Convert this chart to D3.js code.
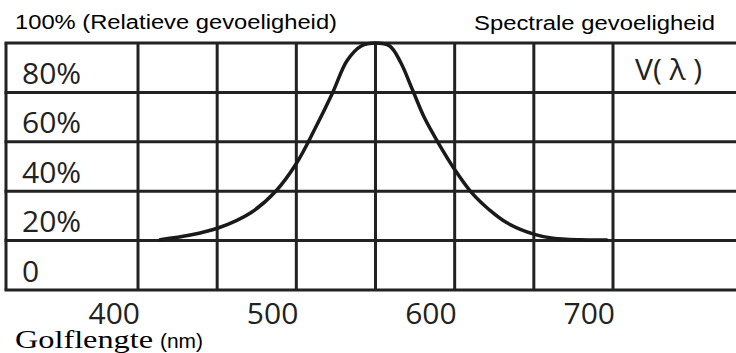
<!DOCTYPE html>
<html>
<head>
<meta charset="utf-8">
<script src="https://cdn.jsdelivr.net/npm/d3@7"></script>
<style>
  html, body { margin: 0; padding: 0; background: #fff; }
  svg { display: block; }
</style>
</head>
<body>
<svg id="chart"></svg>
<script>
// V(lambda) curve
const wavelengths = [414, 433, 451, 471, 487, 500, 512, 523, 532, 541, 550, 559, 566, 573, 581, 590, 600, 611, 622, 633, 651, 662, 679, 696];
const sensitivity = [0.5, 2.8, 6.5, 14, 25, 39, 57, 75, 91, 98.5, 100, 98.5, 90, 77, 62, 49, 36, 24, 15.5, 9, 3, 1.2, 0.4, 0.3];

// grid + labels
const gridWaves = [400, 450, 500, 550, 600, 650, 700];
const xTicks = [400, 500, 600, 700];
const xTickLabels = ['400', '500', '600', '700'];
const rowLabels = ['0', '20%', '40%', '60%', '80%'];

const width = 736;
const height = 353;
const frameLeft = 6;
const ink = '#222';

const svg = d3.select('#chart')
  .attr('width', width)
  .attr('height', height);

const x = d3.scaleLinear().domain([400, 700]).range([138, 613]);
// 5 grid rows, index 0 at the bottom frame line
const yRow = d3.scaleLinear().domain([0, 5]).range([290, 43]);
// curve values: 0 sits on the first row line, 100% on the top frame
const y = d3.scaleLinear().domain([0, 100]).range([yRow(1), yRow(5)]);

// horizontal lines
svg.append('g')
  .selectAll('line')
  .data(d3.range(0, 6))
  .enter().append('line')
  .attr('x1', frameLeft - 1.5)
  .attr('x2', width)
  .attr('y1', (d) => yRow(d))
  .attr('y2', (d) => yRow(d))
  .attr('stroke', ink)
  .attr('stroke-width', 3);

// left frame
svg.append('line')
  .attr('x1', frameLeft).attr('x2', frameLeft)
  .attr('y1', yRow(5)).attr('y2', yRow(0))
  .attr('stroke', ink)
  .attr('stroke-width', 3);

// wavelength grid
svg.append('g')
  .selectAll('line')
  .data(gridWaves)
  .enter().append('line')
  .attr('x1', (d) => x(d))
  .attr('x2', (d) => x(d))
  .attr('y1', yRow(5))
  .attr('y2', yRow(0))
  .attr('stroke', ink)
  .attr('stroke-width', 3);

// row labels
svg.append('g')
  .selectAll('text')
  .data(rowLabels)
  .enter().append('text')
  .attr('x', 22)
  .attr('y', (d, i) => yRow(i) - 8.5)
  .attr('font-family', 'Open Sans, sans-serif')
  .attr('font-size', 30)
  .attr('fill', ink)
  .text((d) => d);

// x tick labels
svg.append('g')
  .selectAll('text')
  .data(xTicks)
  .enter().append('text')
  .attr('x', (d) => x(d) + 2)
  .attr('y', 324)
  .attr('text-anchor', 'end')
  .attr('font-family', 'Open Sans, sans-serif')
  .attr('font-size', 30)
  .attr('fill', ink)
  .text((d, i) => xTickLabels[i]);

// curve
const line = d3.line()
  .x((d) => x(d[0]))
  .y((d) => y(d[1]))
  .curve(d3.curveCatmullRom.alpha(0.5));

svg.append('path')
  .datum(wavelengths.map((w, i) => [w, sensitivity[i]]))
  .attr('d', line)
  .attr('fill', 'none')
  .attr('stroke', '#1a1a1a')
  .attr('stroke-width', 3.5)
  .attr('stroke-linecap', 'round');

// V(λ)
svg.append('text')
  .attr('x', x(700) + 22)
  .attr('y', yRow(4) - 12)
  .attr('font-family', 'Open Sans, sans-serif')
  .attr('font-size', 30)
  .attr('fill', ink)
  .text('V( λ )');

// titles
svg.append('text')
  .attr('x', 15)
  .attr('y', 29)
  .attr('font-family', 'Liberation Sans, Arial, sans-serif')
  .attr('font-size', 20)
  .attr('textLength', 322)
  .attr('lengthAdjust', 'spacingAndGlyphs')
  .text('100% (Relatieve gevoeligheid)');

svg.append('text')
  .attr('x', 474)
  .attr('y', 30)
  .attr('font-family', 'Liberation Sans, Arial, sans-serif')
  .attr('font-size', 20)
  .attr('textLength', 241)
  .attr('lengthAdjust', 'spacingAndGlyphs')
  .text('Spectrale gevoeligheid');

svg.append('text')
  .attr('x', 15)
  .attr('y', 348)
  .attr('font-family', 'Liberation Serif, Times New Roman, serif')
  .attr('font-size', 25)
  .attr('textLength', 138)
  .attr('lengthAdjust', 'spacingAndGlyphs')
  .text('Golflengte');

svg.append('text')
  .attr('x', 160)
  .attr('y', 348)
  .attr('font-family', 'Liberation Sans, Arial, sans-serif')
  .attr('font-size', 20)
  .attr('textLength', 43)
  .attr('lengthAdjust', 'spacingAndGlyphs')
  .text('(nm)');
</script>
</body>
</html>
